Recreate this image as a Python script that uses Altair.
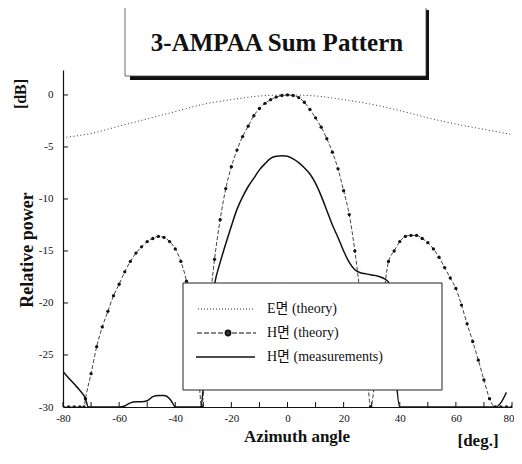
import altair as alt
import pandas as pd

SERIF = "Liberation Serif, Times New Roman, Noto Sans CJK KR, serif"

# ---- data ----
E_ANGLE = [-80, -70, -60, -50, -40, -30, -20, -10, 0, 10, 20, 30, 40, 50, 60, 70, 80]
E_DB = [-4.1, -3.7, -3.0, -2.3, -1.6, -0.9, -0.45, -0.1, 0.0, -0.1, -0.45, -0.9, -1.5, -2.2, -2.8, -3.3, -3.8]

HT_ANGLE = [-80, -78, -76, -74, -72.5, -72, -70, -68, -66, -64, -62, -60, -58, -56, -54, -52, -50,
            -48, -46, -44, -42, -40, -38, -36, -34, -32, -30.6, -29, -28, -26, -24, -22, -20, -18,
            -16, -14, -12, -10, -8, -6, -4, -2, 0, 2, 4, 6, 8, 10, 12, 14, 16, 18, 20, 22, 24, 26,
            28, 29.6, 32, 34, 36, 38, 40, 42, 44, 46, 48, 50, 52, 54, 56, 58, 60, 62, 64, 66, 68,
            70, 72, 74, 76, 78, 80]
HT_DB = [-30, -30, -30, -30, -30, -29.2, -26.8, -24.2, -22.3, -20.8, -19.3, -18.2, -17.0, -16.0, -15.2,
         -14.6, -14.1, -13.8, -13.6, -13.7, -14.1, -14.8, -16.0, -17.9, -21.0, -25.5, -30, -24.5, -21.0,
         -15.8, -12.0, -9.0, -6.9, -5.3, -4.0, -3.0, -2.0, -1.3, -0.8, -0.45, -0.2, -0.05, 0.0, -0.05,
         -0.25, -0.7, -1.4, -2.2, -3.1, -4.2, -5.5, -7.1, -9.2, -11.5, -15.0, -19.5, -25.0, -30, -25.0,
         -20.0, -16.0, -15.0, -14.1, -13.6, -13.5, -13.5, -13.8, -14.2, -14.8, -15.6, -16.6, -17.6,
         -18.6, -20.2, -22.0, -23.7, -25.5, -27.4, -29.2, -30, -30, -30, -30]

HM_ANGLE = [-80, -78, -76, -74, -72, -71, -66, -60, -58, -56, -54, -52, -50, -48, -46, -44, -42, -41,
            -40, -31, -29, -27, -26, -24, -22, -20, -18, -16, -14, -12, -10, -8, -6, -4, -2, 0, 2, 4,
            6, 8, 10, 12, 14, 16, 18, 20, 22, 24, 26, 28, 30, 32, 34, 36, 38, 40, 50, 60, 70, 74, 76, 78]
HM_DB = [-26.6, -27.2, -27.8, -28.4, -29.2, -30, -30, -30, -29.9, -29.6, -29.5, -29.5, -29.4, -29.0,
         -28.9, -28.9, -29.2, -29.6, -30, -30, -25.0, -20.0, -18.2, -16.1, -14.3, -12.6, -11.0, -9.8,
         -8.8, -8.0, -7.2, -6.6, -6.1, -5.9, -5.85, -5.9, -6.15, -6.5, -7.0, -7.6, -8.5, -9.7, -11.1,
         -12.5, -13.7, -15.0, -16.1, -16.8, -17.1, -17.2, -17.3, -17.4, -17.6, -18.0, -25.0, -30,
         -30, -30, -30, -30, -29.6, -28.6]

X_TICKS = list(range(-80, 81, 10))
Y_TICKS = [0, -5, -10, -15, -20, -25]
LEGEND_LABELS = ["E면 (theory)", "H면 (theory)", "H면 (measurements)"]

e_df = pd.DataFrame({"angle": E_ANGLE, "db": E_DB})
ht_df = pd.DataFrame({"angle": HT_ANGLE, "db": HT_DB})
hm_df = pd.DataFrame({"angle": HM_ANGLE, "db": HM_DB})
xt_df = pd.DataFrame({"angle": X_TICKS})
yt_df = pd.DataFrame({"db": Y_TICKS})
one = pd.DataFrame({"k": [0]})

W, H = 449, 337
xs = alt.Scale(domain=[-80, 80], nice=False, zero=False)
ys = alt.Scale(domain=[-30, 2.4], nice=False, zero=False)

X = alt.X("angle:Q", scale=xs, axis=alt.Axis(
    values=list(range(-80, 81, 20)), title=None, ticks=False, grid=False,
    labelExpr="'' + datum.value", labelFont=SERIF, labelFontSize=11, labelColor="#111",
    labelPadding=5, domainColor="#111", domainWidth=1.2, labelFlush=False,
    labelAlign={"condition": {"test": "datum.value == 80", "value": "right"}, "value": "center"},
    labelOffset={"condition": {"test": "datum.value == 80", "value": 2}, "value": 0}))
Y = alt.Y("db:Q", scale=ys, axis=alt.Axis(
    values=[0, -5, -10, -15, -20, -25, -30], title=None, ticks=False, grid=False,
    labelExpr="'' + datum.value", labelFont=SERIF, labelFontSize=11, labelColor="#111",
    labelPadding=10, domainColor="#111", domainWidth=1.2))

e_line = alt.Chart(e_df).mark_line(color="#333", strokeWidth=1, strokeDash=[1, 2.5],
                                   interpolate="monotone").encode(x=X, y=Y)
ht_line = alt.Chart(ht_df).mark_line(color="#111", strokeWidth=0.8, strokeDash=[4, 2],
                                     interpolate="monotone", clip=True).encode(x=X, y=Y)
ht_pts = alt.Chart(ht_df).mark_point(filled=True, color="#111", size=11, opacity=1,
                                     clip=True).encode(x=X, y=Y)
hm_line = alt.Chart(hm_df).mark_line(color="#111", strokeWidth=1.5, interpolate="monotone",
                                     clip=True).encode(x=X, y=Y)

xticks = alt.Chart(xt_df).mark_rule(color="#111", strokeWidth=1).encode(
    x=alt.X("angle:Q", scale=xs), y=alt.value(H), y2=alt.value(H - 5))
yticks = alt.Chart(yt_df).mark_rule(color="#111", strokeWidth=1).encode(
    y=alt.Y("db:Q", scale=ys), x=alt.value(0), x2=alt.value(5))

# legend box
leg_box = alt.Chart(one).mark_rect(fill="white", stroke="#222", strokeWidth=1).encode(
    x=alt.value(120), x2=alt.value(379), y=alt.value(213), y2=alt.value(320))
rows = [239, 263, 287]
leg_layers = [leg_box]
leg_layers.append(alt.Chart(one).mark_rule(color="#333", strokeWidth=1, strokeDash=[1, 2]).encode(
    x=alt.value(135), x2=alt.value(192), y=alt.value(rows[0])))
leg_layers.append(alt.Chart(one).mark_rule(color="#111", strokeWidth=1, strokeDash=[5, 2]).encode(
    x=alt.value(134), x2=alt.value(193), y=alt.value(rows[1])))
leg_layers.append(alt.Chart(one).mark_point(filled=True, fill="#333", stroke="#111", strokeWidth=1.5,
                                            size=28, opacity=1).encode(
    x=alt.value(165), y=alt.value(rows[1])))
leg_layers.append(alt.Chart(one).mark_rule(color="#111", strokeWidth=1.5).encode(
    x=alt.value(133), x2=alt.value(192), y=alt.value(rows[2])))
for lab, ry in zip(LEGEND_LABELS, rows):
    leg_layers.append(alt.Chart(one).mark_text(text=lab, font=SERIF, fontSize=14, align="left",
                                               baseline="middle", color="#111").encode(
        x=alt.value(204), y=alt.value(ry)))

# title box with shadow (right and bottom bars)
shadow_r = alt.Chart(one).mark_rect(fill="#111").encode(
    x=alt.value(361), x2=alt.value(366), y=alt.value(-60), y2=alt.value(10))
shadow_b = alt.Chart(one).mark_rect(fill="#111").encode(
    x=alt.value(67), x2=alt.value(366), y=alt.value(4), y2=alt.value(10))
tbox = alt.Chart(one).mark_rect(fill="white", stroke="#444", strokeWidth=0.8).encode(
    x=alt.value(62), x2=alt.value(363), y=alt.value(-64), y2=alt.value(6))
ttext = alt.Chart(one).mark_text(text="3-AMPAA Sum Pattern", font=SERIF, fontSize=25,
                                 fontWeight="bold", color="#111", baseline="middle").encode(
    x=alt.value(214), y=alt.value(-27))

ytitle = alt.Chart(one).mark_text(text="Relative power", font=SERIF, fontSize=18, fontWeight="bold",
                                  angle=270, color="#111", baseline="middle").encode(
    x=alt.value(-35), y=alt.value(180))
ydb = alt.Chart(one).mark_text(text="[dB]", font=SERIF, fontSize=16, fontWeight="bold",
                               angle=270, color="#111", baseline="middle").encode(
    x=alt.value(-42), y=alt.value(24))
xtitle = alt.Chart(one).mark_text(text="Azimuth angle", font=SERIF, fontSize=17, fontWeight="bold",
                                  color="#111", baseline="middle").encode(
    x=alt.value(234), y=alt.value(367))
xdeg = alt.Chart(one).mark_text(text="[deg.]", font=SERIF, fontSize=17, fontWeight="bold",
                                color="#111", baseline="middle").encode(
    x=alt.value(415), y=alt.value(371))

chart = alt.layer(
    e_line, ht_line, ht_pts, hm_line, xticks, yticks, *leg_layers,
    shadow_r, shadow_b, tbox, ttext, ytitle, ydb, xtitle, xdeg
).properties(
    width=W, height=H,
    autosize=alt.AutoSizeParams(type="none"),
    padding={"left": 55, "top": 62, "right": 2, "bottom": 49},
    background="white",
).configure_view(stroke=None)

chart.save("out.html", embed_options={"renderer": "svg", "actions": False})
